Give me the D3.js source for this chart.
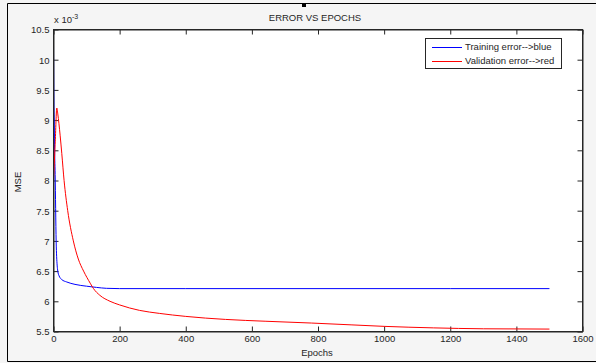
<!DOCTYPE html>
<html><head><meta charset="utf-8">
<script src="https://cdn.jsdelivr.net/npm/d3@7"></script>
<style>body{margin:0;background:#fff}svg{display:block;font-family:"Liberation Sans",Arial,sans-serif}</style>
</head><body>
<svg id="c" width="596" height="363"></svg>
<script>
const title = "ERROR VS EPOCHS";
const xLabel = "Epochs";
const yLabel = "MSE";
const xTicks = [0,200,400,600,800,1000,1200,1400,1600];
const yTicks = [5.5,6,6.5,7,7.5,8,8.5,9,9.5,10,10.5];
const seriesNames = ["Training error-->blue","Validation error-->red"];
const seriesColors = ["#0000ff","#ff0000"];
// values in units of 1e-3
const trainEpochs = [0,1,2,3,5,8,11,13,17,25,40,65,100,130,160,200,400,800,1200,1500];
const trainMSE    = [10.25,9.3,9.0,8.6,8.1,7.0,6.6,6.5,6.42,6.36,6.32,6.28,6.25,6.23,6.215,6.21,6.21,6.21,6.21,6.21];
const valEpochs = [0,5,10,13,20,25,32,43,60,75,91,111,121,140,171,200,260,320,400,520,640,780,900,1000,1150,1300,1500];
const valMSE    = [8.0,8.6,9.2,9.1,8.75,8.45,8.0,7.5,7.0,6.7,6.5,6.3,6.21,6.1,6.0,5.94,5.85,5.80,5.75,5.70,5.67,5.64,5.61,5.585,5.56,5.545,5.54];

const svg = d3.select("#c");
const W=596,H=363;
svg.append("rect").attr("width",W).attr("height",H).attr("fill","#f5f5f5");
svg.append("line").attr("x1",7.5).attr("x2",7.5).attr("y1",3.5).attr("y2",361.5).attr("stroke","#000");
svg.append("line").attr("x1",7.5).attr("x2",W).attr("y1",3.5).attr("y2",3.5).attr("stroke","#000");
svg.append("line").attr("x1",7.5).attr("x2",W).attr("y1",361.5).attr("y2",361.5).attr("stroke","#000");
svg.append("rect").attr("x",302).attr("y",3).attr("width",4).attr("height",4).attr("fill","#000");

const m={l:53.5,t:29.5,r:582.5,b:331.5};
const x=d3.scaleLinear().domain([0,1600]).range([m.l,m.r]);
const y=d3.scaleLinear().domain([5.5,10.5]).range([m.b,m.t]);
svg.append("rect").attr("x",m.l).attr("y",m.t).attr("width",m.r-m.l).attr("height",m.b-m.t).attr("fill","#fff");

const fs="9.5px";
const gx=svg.append("g").attr("transform",`translate(0,${m.b})`)
  .call(d3.axisBottom(x).tickValues(xTicks).tickSizeInner(-5).tickSizeOuter(0).tickPadding(4).tickFormat(d3.format("d")));
const gx2=svg.append("g").attr("transform",`translate(0,${m.t})`)
  .call(d3.axisTop(x).tickValues(xTicks).tickSizeInner(-5).tickSizeOuter(0).tickFormat(""));
const gy=svg.append("g").attr("transform",`translate(${m.l},0)`)
  .call(d3.axisLeft(y).tickValues(yTicks).tickSizeInner(-5).tickSizeOuter(0).tickPadding(4).tickFormat(d3.format("")));
const gy2=svg.append("g").attr("transform",`translate(${m.r},0)`)
  .call(d3.axisRight(y).tickValues(yTicks).tickSizeInner(-5).tickSizeOuter(0).tickFormat(""));
[gx,gx2,gy,gy2].forEach(g=>{g.selectAll("path,line").attr("stroke","#262626");g.selectAll("text").attr("fill","#262626").style("font-size",fs).style("font-family","Liberation Sans, Arial, sans-serif");});
gy.selectAll("text").attr("dy","0.35em");

svg.append("clipPath").attr("id","cp").append("rect").attr("x",m.l).attr("y",m.t).attr("width",m.r-m.l).attr("height",m.b-m.t);
const line=d3.line().x(d=>x(d[0])).y(d=>y(d[1])).curve(d3.curveMonotoneX);
const tr=trainEpochs.map((e,i)=>[e,trainMSE[i]]);
const va=valEpochs.map((e,i)=>[e,valMSE[i]]);
const pg=svg.append("g").attr("clip-path","url(#cp)");
pg.append("path").datum(tr).attr("d",line).attr("fill","none").attr("stroke",seriesColors[0]).attr("stroke-width",1);
pg.append("path").datum(va).attr("d",line).attr("fill","none").attr("stroke",seriesColors[1]).attr("stroke-width",1);
svg.append("rect").attr("x",m.l).attr("y",m.t).attr("width",m.r-m.l).attr("height",m.b-m.t).attr("fill","none").attr("stroke","#262626");

const ex=svg.append("text").attr("x",54).attr("y",23).style("font-size","9.5px").attr("fill","#262626");
ex.append("tspan").text("x 10");
ex.append("tspan").attr("dy",-4).style("font-size","7px").text("-3");

svg.append("text").attr("x",315).attr("y",21).attr("text-anchor","middle").style("font-size","9.5px").attr("fill","#262626").text(title);
svg.append("text").attr("x",317).attr("y",356).attr("text-anchor","middle").style("font-size","9.5px").attr("fill","#262626").text(xLabel);
svg.append("text").attr("transform","translate(21,182) rotate(-90)").attr("text-anchor","middle").style("font-size","9.5px").attr("fill","#262626").text(yLabel);

const lg=svg.append("g");
lg.append("rect").attr("x",425.5).attr("y",38.5).attr("width",136).attr("height",30).attr("fill","#fff").attr("stroke","#262626");
seriesNames.forEach((n,i)=>{
  const yy=47+i*14;
  lg.append("line").attr("x1",432).attr("x2",462).attr("y1",yy+0.5).attr("y2",yy+0.5).attr("stroke",seriesColors[i]);
  lg.append("text").attr("x",465).attr("y",yy).attr("dy","0.35em").style("font-size","9.5px").attr("fill","#262626").text(n);
});
</script>
</body></html>
